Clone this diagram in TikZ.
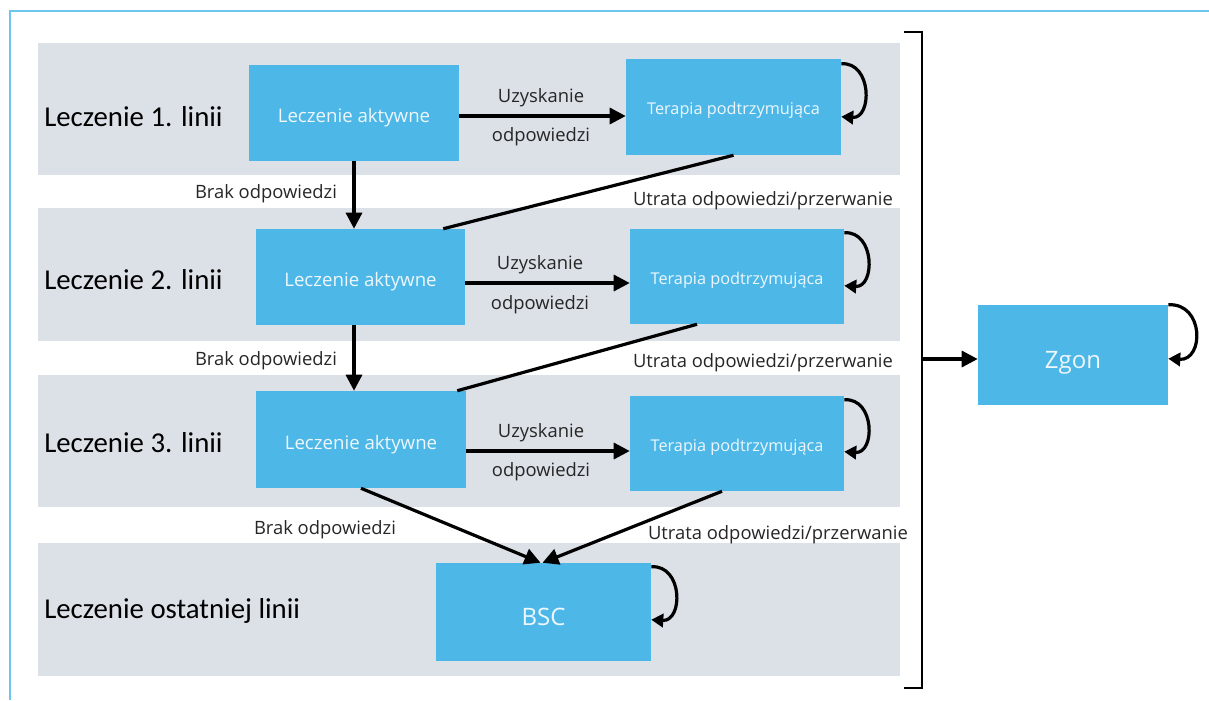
\documentclass[tikz,border=0pt]{standalone}
\usepackage{fontspec}
\setmainfont{Open Sans}
\newfontfamily\calib{Carlito}
\usetikzlibrary{arrows.meta,calc}
\definecolor{boxblue}{HTML}{4DB7E8}
\definecolor{bandgray}{HTML}{DCE0E7}
\definecolor{framecol}{HTML}{6EC6F0}
\definecolor{boxtext}{HTML}{EEF7FC}
\definecolor{labtext}{HTML}{262626}
\begin{document}
\begin{tikzpicture}[x=0.75pt,y=-0.75pt,
  band/.style={fill=bandgray,draw=none},
  box/.style={fill=boxblue,draw=none,text=boxtext,inner sep=0pt,font=\fontsize{14}{16}\selectfont,text height=14.3pt,text depth=0pt},
  tbox/.style={box,font=\fontsize{12.2}{14}\selectfont,text height=11.8pt},
  bigbox/.style={box,font=\fontsize{18}{21}\selectfont,text height=20pt},
  rowlab/.style={anchor=west,inner sep=0pt,yshift=-1.5pt,font=\calib\fontsize{21.6}{25}\selectfont,text=black},
  elab/.style={inner sep=0pt,yshift=-2.5pt,text=labtext,font=\fontsize{13.8}{16}\selectfont},
  conn/.style={line width=2.4pt,draw=black},
  arr/.style={conn,-{Triangle[length=12pt,width=12pt]}},
  loop/.style={line width=2.4pt,draw=black,-{Triangle[length=9pt,width=10pt]}}]
\useasboundingbox (0,0) rectangle (1209,700);
% frame
\draw[framecol,line width=1.5pt] (10,700) -- (10,11) -- (1209,11);
% bands
\fill[band] (38,43) rectangle (900,175);
\fill[band] (38,208) rectangle (900,341);
\fill[band] (38,375) rectangle (900,507);
\fill[band] (38,543) rectangle (900,676);
% row labels
\node[rowlab] (r1) at (44,115) {Leczenie 1. linii};
\node[rowlab] (r2) at (44,278) {Leczenie 2. linii};
\node[rowlab] (r3) at (44,441) {Leczenie 3. linii};
\node[rowlab] (r4) at (44,609) {Leczenie ostatniej linii};
% boxes
\node[box,minimum width=157.5pt,minimum height=72pt] (a1) at (354,113) {Leczenie aktywne};
\node[tbox,minimum width=161.25pt,minimum height=72pt] (t1) at (733.5,107) {Terapia podtrzymująca};
\node[box,minimum width=156.75pt,minimum height=72pt] (a2) at (360.5,277) {Leczenie aktywne};
\node[tbox,minimum width=160.5pt,minimum height=71.25pt] (t2) at (737,276.5) {Terapia podtrzymująca};
\node[box,minimum width=157.5pt,minimum height=72.75pt] (a3) at (361,439.5) {Leczenie aktywne};
\node[tbox,minimum width=160.5pt,minimum height=71.25pt] (t3) at (737,443.5) {Terapia podtrzymująca};
\node[bigbox,minimum width=161.25pt,minimum height=73.5pt] (bsc) at (543.5,612) {BSC};
\node[bigbox,minimum width=142.5pt,minimum height=75pt] (zgon) at (1073,355) {Zgon};
% horizontal arrows
\coordinate (h1) at ($(a1.east)+(0,3)$);
\draw[arr] (h1) -- (h1 -| t1.west);
\coordinate (h2) at ($(a2.east)+(0,6)$);
\draw[arr] (h2) -- (h2 -| t2.west);
\coordinate (h3) at ($(a3.east)+(0,11.5)$);
\draw[arr] (h3) -- (h3 -| t3.west);
\node[elab] (u1) at (541,94) {Uzyskanie};
\node[elab] (o1) at (541,133) {odpowiedzi};
\node[elab] (u2) at (540,261) {Uzyskanie};
\node[elab] (o2) at (540,301) {odpowiedzi};
\node[elab] (u3) at (541,429) {Uzyskanie};
\node[elab] (o3) at (541,468) {odpowiedzi};
% vertical arrows
\draw[arr] (a1.south) -- (a1.south |- a2.north);
\coordinate (v2) at ($(a2.south)+(-6.5,0)$);
\draw[arr] (v2) -- (v2 |- a3.north);
\node[elab] (b1) at (266,190) {Brak odpowiedzi};
\node[elab] (b2) at (266,357) {Brak odpowiedzi};
% loss-of-response lines
\draw[conn] (t1.south) -- ($(a2.north east)+(-22,0)$);
\draw[conn] ($(t2.south)+(-40,0)$) -- ($(a3.north east)+(-9,0)$);
\node[elab] (l1) at (763,197) {Utrata odpowiedzi/przerwanie};
\node[elab] (l2) at (763,359) {Utrata odpowiedzi/przerwanie};
% to BSC
\draw[arr] (a3.south) -- ($(bsc.north)+(-3,0)$);
\draw[arr] ($(t3.south)+(-15,0)$) -- ($(bsc.north)+(-1,0)$);
\node[elab] (b3) at (325,526) {Brak odpowiedzi};
\node[elab] (l3) at (778,531) {Utrata odpowiedzi/przerwanie};
% self loops
\draw[loop] ($(t1.north east)+(0,5)$) .. controls +(31,-2) and +(31,2) .. ($(t1.north east)+(0,58)$);
\draw[loop] ($(t2.north east)+(0,4)$) .. controls +(31,-2) and +(31,2) .. ($(t2.north east)+(0,57)$);
\draw[loop] ($(t3.north east)+(0,4)$) .. controls +(31,-2) and +(31,2) .. ($(t3.north east)+(0,56)$);
\draw[loop] ($(zgon.north east)+(0,0)$) .. controls +(36,-2) and +(36,2) .. ($(zgon.north east)+(0,54)$);
\draw[loop] ($(bsc.north east)+(0,4)$) .. controls +(32,-2) and +(32,2) .. ($(bsc.north east)+(0,57)$);
% bracket
\coordinate (bt) at (904,32);
\coordinate (bb) at (904,688);
\draw[line width=2pt,line join=miter] (bt) -- (922,32) -- (922,688) -- (bb);
\coordinate (bk) at (922,359);
\draw[arr] (bk) -- (bk -| zgon.west);
\end{tikzpicture}
\end{document}
